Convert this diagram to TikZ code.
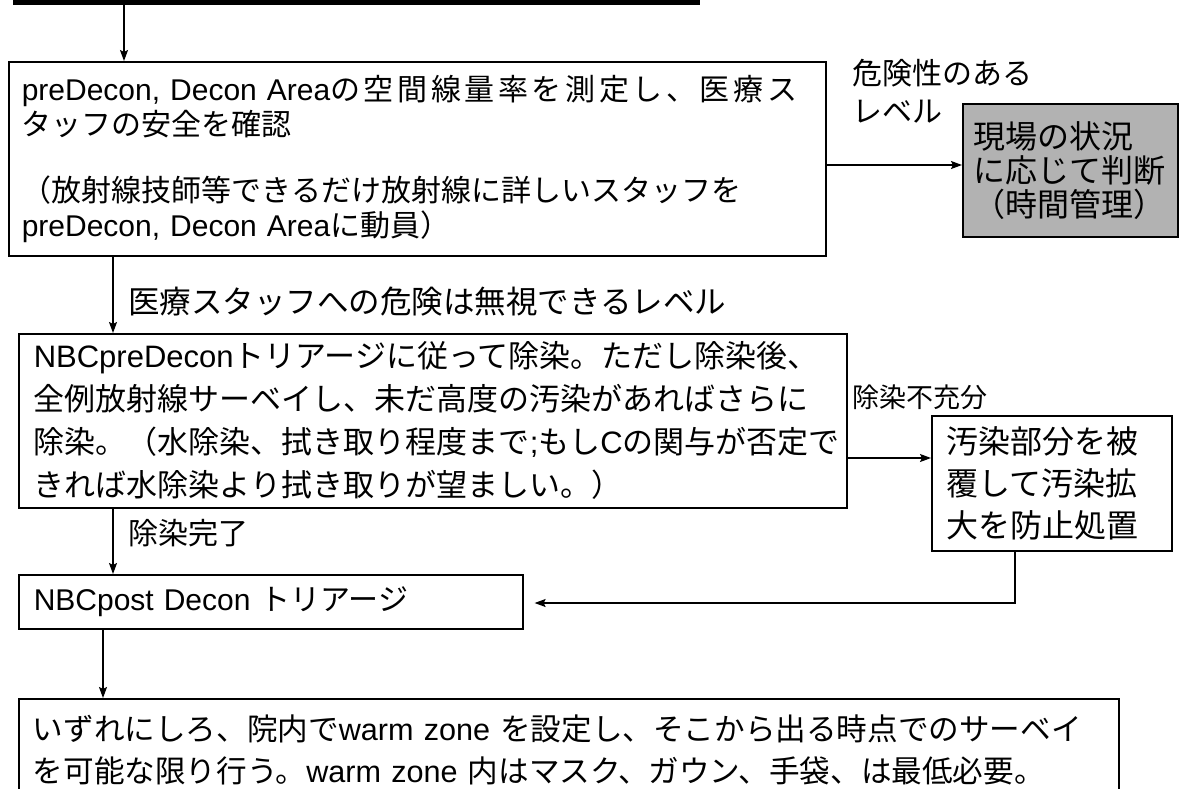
\documentclass[tikz,border=0pt]{standalone}
\usepackage{fontspec}
\setmainfont{Noto Sans CJK JP}
\newfontfamily\ar[Scale=1.0]{Liberation Sans}
\newfontfamily\jpw[LetterSpace=12]{Noto Sans CJK JP}
\usetikzlibrary{arrows.meta}
\tikzset{
  box/.style={draw, line width=1.6pt, anchor=north west, align=left, inner ysep=0pt},
  lbl/.style={anchor=west, inner sep=0pt, align=left, font=\fontsize{30}{38}\selectfont},
  arr/.style={line width=1.3pt, -{Stealth[length=11pt,width=8pt,inset=2pt]}},
}
\begin{document}
\begin{tikzpicture}[x=1pt,y=-1pt]
\useasboundingbox (0,0) rectangle (1182,788);
\clip (0,0) rectangle (1182,788);
% previous box (cut off at the top)
\node[fill=black, anchor=south west, minimum width=687pt, minimum height=30pt, inner sep=0pt] (prev) at (13,5) {};
% box 1
\node[box, inner xsep=13pt, text width=791pt, minimum width=817pt, minimum height=194pt,
      font=\fontsize{30}{35}\selectfont] (b1) at (8,61)
  {{\ar preDecon, Decon Area}{\jpw の空間線量率を測定し、医療ス}\\タッフの安全を確認\\[31pt]（放射線技師等できるだけ放射線に詳しいスタッフを\\{\ar preDecon, Decon Area}に動員）};
% grey box
\node[box, fill=black!30, inner xsep=11pt, text width=193pt, minimum width=215pt, minimum height=133pt,
      font=\fontsize{32}{34}\selectfont] (g) at (962,103)
  {現場の状況\\に応じて判断\\（時間管理）};
% box 2
\node[box, inner xsep=15pt, text width=798pt, minimum width=828pt, minimum height=174pt,
      font=\fontsize{31}{43}\selectfont] (b2) at (18,333)
  {{\ar NBCpreDecon}トリアージに従って除染。ただし除染後、\\全例放射線サーベイし、未だ高度の汚染があればさらに\\除染。（水除染、拭き取り程度まで{\ar ;}もし{\ar C}の関与が否定で\\きれば水除染より拭き取りが望ましい。）};
% right box
\node[box, inner xsep=15pt, text width=210pt, minimum width=240pt, minimum height=135pt,
      font=\fontsize{32}{42}\selectfont] (rb) at (931,415)
  {汚染部分を被\\覆して汚染拡\\大を防止処置};
% box 3
\node[box, inner xsep=15pt, text width=474pt, minimum width=504pt, minimum height=54pt,
      font=\fontsize{30}{36}\selectfont] (b3) at (18,574)
  {{\ar NBCpost Decon }トリアージ};
% box 4 (bottom cut off)
\node[box, inner xsep=14pt, text width=1072pt, minimum width=1100pt, minimum height=102pt,
      font=\fontsize{30.6}{42}\selectfont] (b4) at (18,698)
  {いずれにしろ、院内で{\ar warm zone }を設定し、そこから出る時点でのサーベイ\\を可能な限り行う。{\ar warm zone }内はマスク、ガウン、手袋、は最低必要。};
% labels
\node[lbl] (l1) at (852,91) {危険性のある\\レベル};
\node[lbl, font=\fontsize{31.5}{38}\selectfont] (l2) at (128,302) {医療スタッフへの危険は無視できるレベル};
\node[lbl, font=\fontsize{27}{34}\selectfont] (l3) at (852,397) {除染不充分};
\node[lbl] (l4) at (128,533) {除染完了};
% x / y positions of connectors
\coordinate (x1) at (124,0);
\coordinate (x2) at (113,0);
\coordinate (x3) at (103,0);
\coordinate (x4) at (1015,0);
\coordinate (y1) at (0,165);
\coordinate (y2) at (0,458);
\coordinate (y3) at (0,603);
% connectors
\draw[arr] (prev.south -| x1) -- (b1.north -| x1);
\draw[arr] (b1.south -| x2) -- (b2.north -| x2);
\draw[arr] (b1.east |- y1) -- (g.west |- y1);
\draw[arr] (b2.south -| x2) -- (b3.north -| x2);
\draw[arr] (b2.east |- y2) -- (rb.west |- y2);
\draw[arr, shorten >=11pt] (rb.south -| x4) |- (b3.east |- y3);
\draw[arr] (b3.south -| x3) -- (b4.north -| x3);
\end{tikzpicture}
\end{document}
